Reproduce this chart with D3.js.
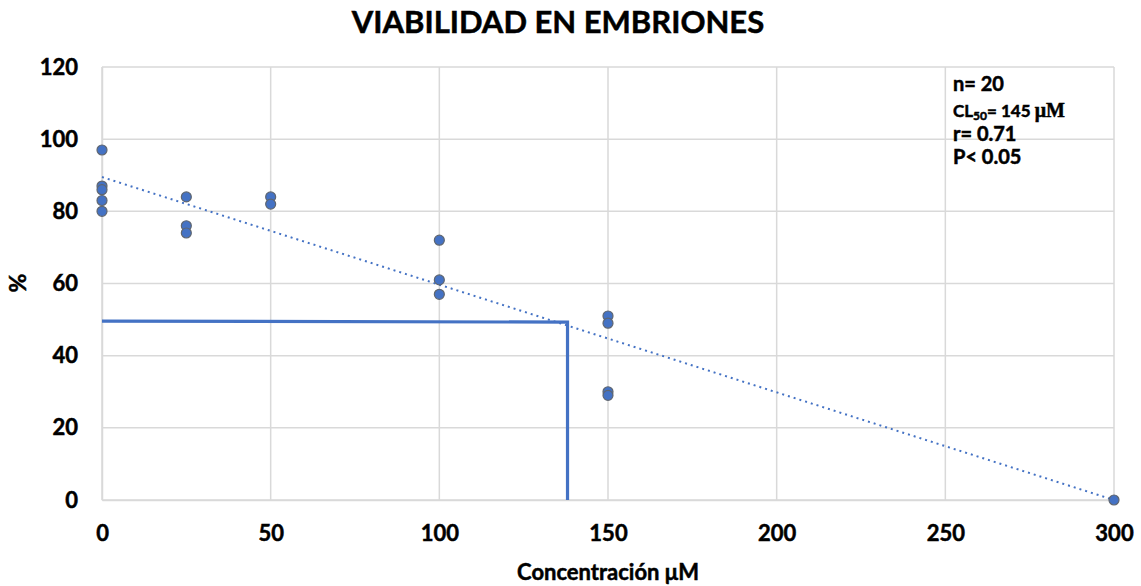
<!DOCTYPE html>
<html><head><meta charset="utf-8">
<script src="https://cdn.jsdelivr.net/npm/d3@7"></script>
<style>
html,body{margin:0;padding:0;background:#fff;}
text{font-family:Lato,"Open Sans",sans-serif;font-weight:bold;fill:#000;stroke:#000;stroke-width:0.5px;}
</style></head>
<body><svg id="c" width="1141" height="586"></svg>
<script>
const concentration = [0,0,0,0,0, 25,25,25, 50,50, 100,100,100, 150,150,150,150, 300];
const viability     = [97,87,86,83,80, 84,76,74, 84,82, 72,61,57, 51,49,30,29, 0];
const trendX = [0, 300];
const trendY = [89.5, 0];
const cl50X = [0, 138, 138];
const cl50Y = [49.6, 49.3, 0];
const xTicks = [0,50,100,150,200,250,300];
const yTicks = [0,20,40,60,80,100,120];

const svg = d3.select("#c");
const x = d3.scaleLinear().domain([0,300]).range([102,1114]);
const y = d3.scaleLinear().domain([0,120]).range([500,67]);

// grid
svg.append("g").selectAll("line.h").data(yTicks).join("line")
  .attr("x1",x(0)).attr("x2",x(300)).attr("y1",d=>y(d)).attr("y2",d=>y(d))
  .attr("stroke","#d9d9d9").attr("stroke-width",1.5);
svg.append("g").selectAll("line.v").data(xTicks).join("line")
  .attr("y1",y(0)).attr("y2",y(120)).attr("x1",d=>x(d)).attr("x2",d=>x(d))
  .attr("stroke","#d9d9d9").attr("stroke-width",1.5);

// axes (labels only)
const xa = svg.append("g").attr("transform","translate(0,500)")
  .call(d3.axisBottom(x).tickValues(xTicks).tickSize(0).tickPadding(25).tickFormat(d3.format("d")));
xa.select(".domain").attr("stroke","#d9d9d9").attr("stroke-width",1.5);
xa.selectAll("text").style("font-size","22px").style("font-family","Lato,sans-serif").style("font-weight","bold");
const ya = svg.append("g").attr("transform","translate(102,0)")
  .call(d3.axisLeft(y).tickValues(yTicks).tickSize(0).tickPadding(24).tickFormat(d3.format("d")));
ya.select(".domain").attr("stroke","#d9d9d9").attr("stroke-width",1.5);
ya.selectAll("text").style("font-size","22px").style("font-family","Lato,sans-serif").style("font-weight","bold");

// trendline
const tl = d3.line().x(d=>x(d[0])).y(d=>y(d[1]));
svg.append("path").datum(trendX.map((v,i)=>[v,trendY[i]]))
  .attr("d",tl).attr("fill","none").attr("stroke","#4472C4").attr("stroke-width",2)
  .attr("stroke-dasharray","2,4");

// CL50 lines
svg.append("path").datum(cl50X.map((v,i)=>[v,cl50Y[i]]))
  .attr("d",tl).attr("fill","none").attr("stroke","#4472C4").attr("stroke-width",3.2);

// points
svg.append("g").selectAll("circle").data(concentration.map((v,i)=>[v,viability[i]])).join("circle")
  .attr("cx",d=>x(d[0])).attr("cy",d=>y(d[1])).attr("r",5)
  .attr("fill","#4472C4").attr("stroke","#5f6670").attr("stroke-width",1.2);

// title
svg.append("text").attr("x",558).attr("y",33).attr("text-anchor","middle")
  .style("font-size","31px").text("VIABILIDAD EN EMBRIONES");

// axis titles
svg.append("text").attr("x",608).attr("y",580).attr("text-anchor","middle")
  .style("font-size","22px").text("Concentración μM");
svg.append("text").attr("transform","translate(26,283) rotate(-90)").attr("text-anchor","middle")
  .style("font-size","23px").text("%");

// annotation
const ax = 953;
svg.append("text").attr("x",ax).attr("y",91).style("font-size","20px").text("n= 20");
const cl = svg.append("text").attr("x",ax).attr("y",117).style("font-size","17px");
cl.append("tspan").text("CL");
cl.append("tspan").attr("dy",3).style("font-size","12px").text("50");
cl.append("tspan").attr("dy",-3).text("= 145 ");
cl.append("tspan").style("font-family","'Liberation Serif',serif").style("font-size","20px").text("μM");
svg.append("text").attr("x",ax).attr("y",141).style("font-size","20px").text("r= 0.71");
svg.append("text").attr("x",ax).attr("y",164).style("font-size","20px").text("P< 0.05");
</script></body></html>
